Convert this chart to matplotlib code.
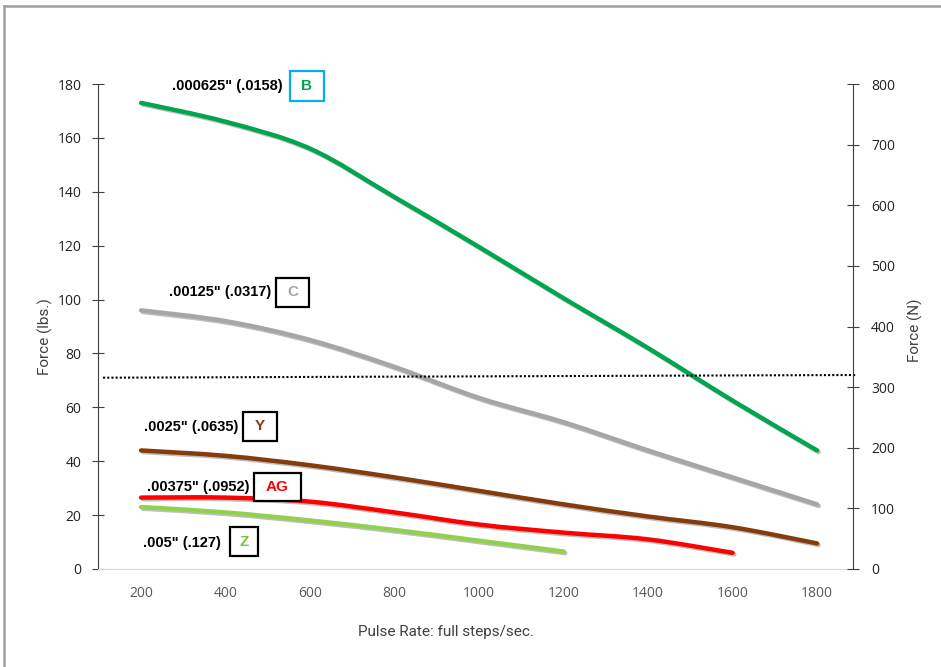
import matplotlib
matplotlib.use('Agg')
import numpy as np
import matplotlib.pyplot as plt
import matplotlib.patheffects as pe
from matplotlib.patches import Rectangle, PathPatch
from matplotlib.path import Path
from matplotlib.lines import Line2D

# pulse rate (full steps/sec.)
rate = [200, 400, 600, 800, 1000, 1200, 1400, 1600, 1800]

force_b = [173, 166, 156, 138, 119.5, 100.5, 82, 62.5, 44]
force_c = [96, 92, 85, 75, 63.5, 54.5, 44, 34, 24]
force_y = [44, 42, 38.5, 34, 29, 24, 19.5, 15.5, 9.5]
rate_ag = [200, 400, 600, 800, 1000, 1200, 1400, 1600]
force_ag = [26.5, 26.5, 25, 21, 16.5, 13.5, 11, 6]
rate_z = [200, 400, 600, 800, 1000, 1200]
force_z = [23, 21, 18, 14.5, 10.5, 6.5]

# dotted reference line
ref_x = [110, 1894]
ref_y = [71, 72]

left_ticks = [0, 20, 40, 60, 80, 100, 120, 140, 160, 180]
right_ticks = [0, 100, 200, 300, 400, 500, 600, 700, 800]
x_ticks = [200, 400, 600, 800, 1000, 1200, 1400, 1600, 1800]

W, H = 941, 667
fig = plt.figure(figsize=(W / 100, H / 100), dpi=100)


def fx(px):
    return px / W


def fy(py):
    return 1 - py / H


def smooth_path(xs, ys):
    # smoothed line through the points (like a spreadsheet "smoothed line")
    pts = np.column_stack([xs, ys]).astype(float)
    n = len(pts)
    verts = [pts[0]]
    codes = [Path.MOVETO]
    for i in range(n - 1):
        p0 = pts[max(i - 1, 0)]
        p1 = pts[i]
        p2 = pts[i + 1]
        p3 = pts[min(i + 2, n - 1)]
        verts += [p1 + (p2 - p0) / 6, p2 - (p3 - p1) / 6, p2]
        codes += [Path.CURVE4] * 3
    return Path(verts, codes)


ax = fig.add_axes([fx(98), fy(569), fx(853) - fx(98), fy(84) - fy(569)])
ax.set_xlim(98, 1885)
ax.set_ylim(0, 180)

shadow = [pe.SimpleLineShadow(offset=(1.2, -1.2), alpha=0.25, shadow_color='black'), pe.Normal()]
series = [
    (rate, force_b, '#00a64f'),
    (rate, force_c, '#a6a6a6'),
    (rate, force_y, '#843c0c'),
    (rate_ag, force_ag, '#ff0000'),
    (rate_z, force_z, '#92d050'),
]
for xs, ys, col in series:
    patch = PathPatch(smooth_path(xs, ys), fill=False, edgecolor=col, lw=3.2,
                      capstyle='round', joinstyle='round', path_effects=shadow)
    ax.add_patch(patch)

ax.plot(ref_x, ref_y, color='black', lw=1.5, ls=(0, (1, 1)), clip_on=False)

for s in ['top', 'right']:
    ax.spines[s].set_visible(False)
ax.spines['left'].set_color('#404040')
ax.spines['bottom'].set_color('#d9d9d9')
ax.set_yticks(left_ticks)
ax.set_xticks(x_ticks)
ax.tick_params(axis='y', direction='inout', length=8, color='#404040',
               labelsize=10, labelcolor='#222222', pad=8)
ax.tick_params(axis='x', length=0, labelsize=10, labelcolor='#595959', pad=12)
for lab in ax.get_xticklabels() + ax.get_yticklabels():
    lab.set_family(['Open Sans', 'DejaVu Sans'])

ax2 = ax.twinx()
ax2.set_ylim(0, 800)
ax2.set_yticks(right_ticks)
for s in ['top', 'left', 'bottom']:
    ax2.spines[s].set_visible(False)
ax2.spines['right'].set_color('#404040')
ax2.tick_params(axis='y', direction='inout', length=8, color='#404040',
                labelsize=10, labelcolor='#222222', pad=9)
for lab in ax2.get_yticklabels():
    lab.set_family(['Open Sans', 'DejaVu Sans'])

narrow = ['Roboto', 'DejaVu Sans']
fig.text(fx(45), fy(337), 'Force (lbs.)', rotation=90, ha='center', va='center',
         fontsize=11, color='#404040', family=narrow)
fig.text(fx(915), fy(330), 'Force (N)', rotation=90, ha='center', va='center',
         fontsize=11, color='#404040', family=narrow)
fig.text(fx(446), fy(632), 'Pulse Rate: full steps/sec.', ha='center', va='center',
         fontsize=11, color='#404040', family=narrow)

# labels: text, right end x, y, box letter, box (x0, y0, x1, y1), letter colour, box colour
labels = [
    ('.000625" (.0158)', 283, 86, 'B', (290, 71, 324, 101), '#00a64f', '#00b0f0'),
    ('.00125" (.0317)', 271, 292, 'C', (276, 278, 309, 307), '#a6a6a6', 'black'),
    ('.0025" (.0635)', 238, 427, 'Y', (243, 412, 277, 441), '#843c0c', 'black'),
    ('.00375" (.0952)', 250, 487, 'AG', (254, 473, 301, 501), '#ff0000', 'black'),
    ('.005" (.127)', 221, 543, 'Z', (230, 527, 258, 556), '#7cc242', 'black'),
]
for txt, xe, yc, letter, (x0, y0, x1, y1), lc, bc in labels:
    fig.text(fx(xe), fy(yc), txt, ha='right', va='center', fontsize=10.5,
             fontweight='bold', color='black', family=['Liberation Sans', 'DejaVu Sans'])
    fig.patches.append(Rectangle((fx(x0), fy(y1)), fx(x1) - fx(x0), fy(y0) - fy(y1),
                                 transform=fig.transFigure, fill=True, facecolor='white',
                                 edgecolor=bc, lw=1.6))
    fig.text(fx((x0 + x1) / 2), fy((y0 + y1) / 2), letter, ha='center', va='center',
             fontsize=11, fontweight='bold', color=lc,
             family=['Liberation Sans', 'DejaVu Sans'])

# outer frame (left and top edges)
fig.lines.append(Line2D([fx(4), fx(4)], [0, fy(6)], transform=fig.transFigure,
                        color='#a0a0a0', lw=1.8))
fig.lines.append(Line2D([fx(4), 1], [fy(6), fy(6)], transform=fig.transFigure,
                        color='#a0a0a0', lw=1.8))

fig.savefig('out.png', dpi=100)
